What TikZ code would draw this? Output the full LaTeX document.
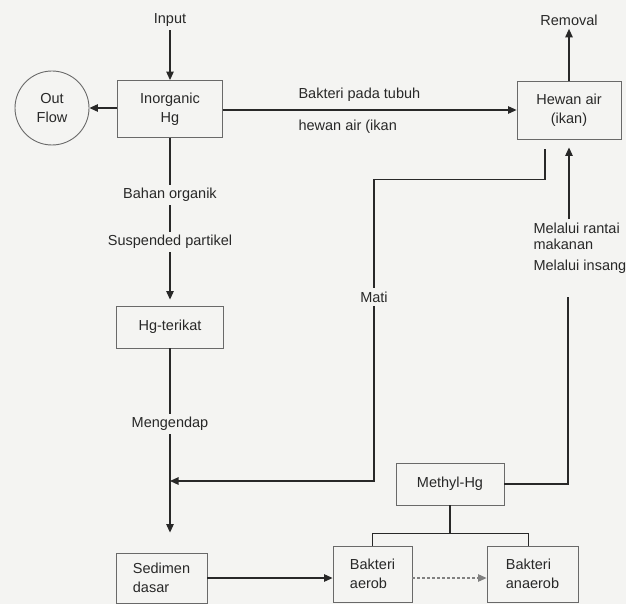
\documentclass[tikz,border=0pt]{standalone}
\usepackage{fontspec}
\setmainfont{Liberation Sans}
\usetikzlibrary{arrows.meta,positioning}
\definecolor{lineGray}{RGB}{40,40,40}
\definecolor{boxGray}{RGB}{105,105,105}
\definecolor{paperGray}{RGB}{244,244,242}

\begin{document}
\begin{tikzpicture}[x=1pt, y=-1pt,
    every node/.style={font=\fontsize{14.5}{19}\selectfont, text=lineGray},
    box/.style={draw=boxGray, line width=0.9pt, align=center, inner sep=2pt},
    flow/.style={lineGray, line width=1.1pt},
    tip/.style={flow, -{Triangle[length=8.5pt,width=7.5pt]}}]
    % page
    \fill[paperGray] (0,0) rectangle (626,604);
    \useasboundingbox (0,0) rectangle (626,604);
    % top row
    \node (input) at (170,20) {Input};
    \node[box, minimum width=105pt, minimum height=57pt] (inorg) at (170,109) {Inorganic\\Hg};
    \node[draw=boxGray, circle, line width=0.9pt, minimum size=74pt, align=center] (outflow) at (52,108) {Out\\Flow};
    \node[box, minimum width=104pt, minimum height=58pt] (hewan) at (569,110) {Hewan air\\(ikan)};
    \node (removal) at (569,20) {Removal};
    \node[anchor=west] (lbakteri) at (295,95) {Bakteri pada tubuh};
    \node[anchor=west] (lhewan) at (295,127) {hewan air (ikan};
    % left column
    \node (bahan) at (170,195) {Bahan organik};
    \node (susp) at (170,242) {Suspended partikel};
    \node[box, minimum width=107pt, minimum height=42pt] (terikat) at (170,327) {Hg-terikat};
    \node (mengendap) at (170,424) {Mengendap};
    \node[box, align=left, minimum width=91pt, minimum height=50pt] (sedimen) at (161.5,578) {Sedimen\\dasar};
    % right side
    \node (mati) at (374,297) {Mati};
    \node[anchor=west, align=left, font=\fontsize{14.5}{16}\selectfont] (lrantai) at (530,236) {Melalui rantai\\makanan};
    \node[anchor=west] (linsang) at (530,267) {Melalui insang};
    \node[box, minimum width=108pt, minimum height=42pt] (methyl) at (450,484) {Methyl-Hg};
    \node[box, align=left, minimum width=79pt, minimum height=56pt] (aerob) at (372.5,574) {Bakteri\\aerob};
    \node[box, align=left, minimum width=91pt, minimum height=56pt] (anaerob) at (532.5,574) {Bakteri\\anaerob};
    \coordinate (hewanout) at ([xshift=-24pt,yshift=-10pt]hewan.south);
    \coordinate (join) at (170,481);
    \coordinate (insangend) at (568,297);
    % connectors
    \draw[tip] (input) -- (inorg);
    \draw[tip] (inorg.west |- outflow) -- (outflow.east);
    \draw[tip] (inorg.east |- hewan) -- (hewan.west);
    \draw[tip] (hewan) -- (removal);
    \draw[flow] (inorg) -- (bahan);
    \draw[flow] (bahan) -- (susp);
    \draw[tip, shorten >=6pt] (susp) -- (terikat);
    \draw[flow] (terikat) -- (mengendap);
    \draw[tip, shorten >=20pt] (mengendap.south) -- (mengendap.south |- sedimen.north);
    \draw[flow] (hewanout) -- ++(0,30) -| (mati.north);
    \draw[tip] (mati.south) |- (join);
    \draw[flow] (methyl.east) -| (insangend);
    \draw[tip, shorten >=8pt] (lrantai.north -| hewan.south) -- (hewan.south);
    \draw[flow] (methyl.south) -- ++(0,28) coordinate (split);
    \draw[flow] (aerob.north) |- (split) -| ([xshift=-4pt]anaerob.north);
    \draw[tip] (sedimen.east) -- (sedimen.east -| aerob.west);
    \draw[tip, densely dashed, draw=gray] (aerob.east |- sedimen.east) -- (anaerob.west |- sedimen.east);
\end{tikzpicture}
\end{document}
